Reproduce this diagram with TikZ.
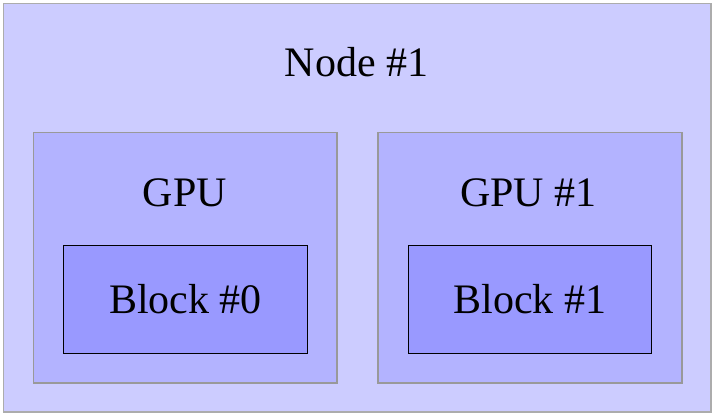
\documentclass[tikz,border=0pt]{standalone}
\usepackage{fontspec}
\setmainfont{Liberation Serif}
\usetikzlibrary{positioning}
\definecolor{nodefill}{HTML}{CCCCFF}
\definecolor{gpufill}{HTML}{B3B3FF}
\definecolor{blockfill}{HTML}{9999FF}

\begin{document}
\begin{tikzpicture}[x=1pt,y=-1pt,
  nodebox/.style={draw=gray!65,line width=1.5pt,fill=nodefill,minimum width=707.5pt,minimum height=408.5pt,inner sep=0pt},
  gpubox/.style={draw=gray!80,line width=1.5pt,fill=gpufill,minimum width=303.7pt,minimum height=250.3pt,inner sep=0pt},
  blockbox/.style={draw=black,line width=1pt,fill=blockfill,minimum width=243.7pt,minimum height=107.6pt,inner sep=0pt},
  lbl/.style={anchor=base,inner sep=0pt,font=\fontsize{42}{50}\selectfont}]
  \useasboundingbox (0,0) rectangle (716,417);
  \node[nodebox] (node1) at (357.25,207.75) {};
  \node[gpubox] (gpu0) at (185.2,257.8) {};
  \node[gpubox] (gpu1) at (529.9,257.8) {};
  \node[blockbox] (block0) at (185.2,299.5) {};
  \node[blockbox] (block1) at (529.9,299.5) {};
  \node[lbl] (node1lbl) at (356.5,76.7) {Node \#1};
  \node[lbl] (gpu0lbl) at (185,206.7) {GPU};
  \node[lbl] (gpu1lbl) at (528.5,206.7) {GPU \#1};
  \node[lbl] (block0lbl) at (185.5,313.3) {Block \#0};
  \node[lbl] (block1lbl) at (529.9,313.3) {Block \#1};
\end{tikzpicture}
\end{document}
